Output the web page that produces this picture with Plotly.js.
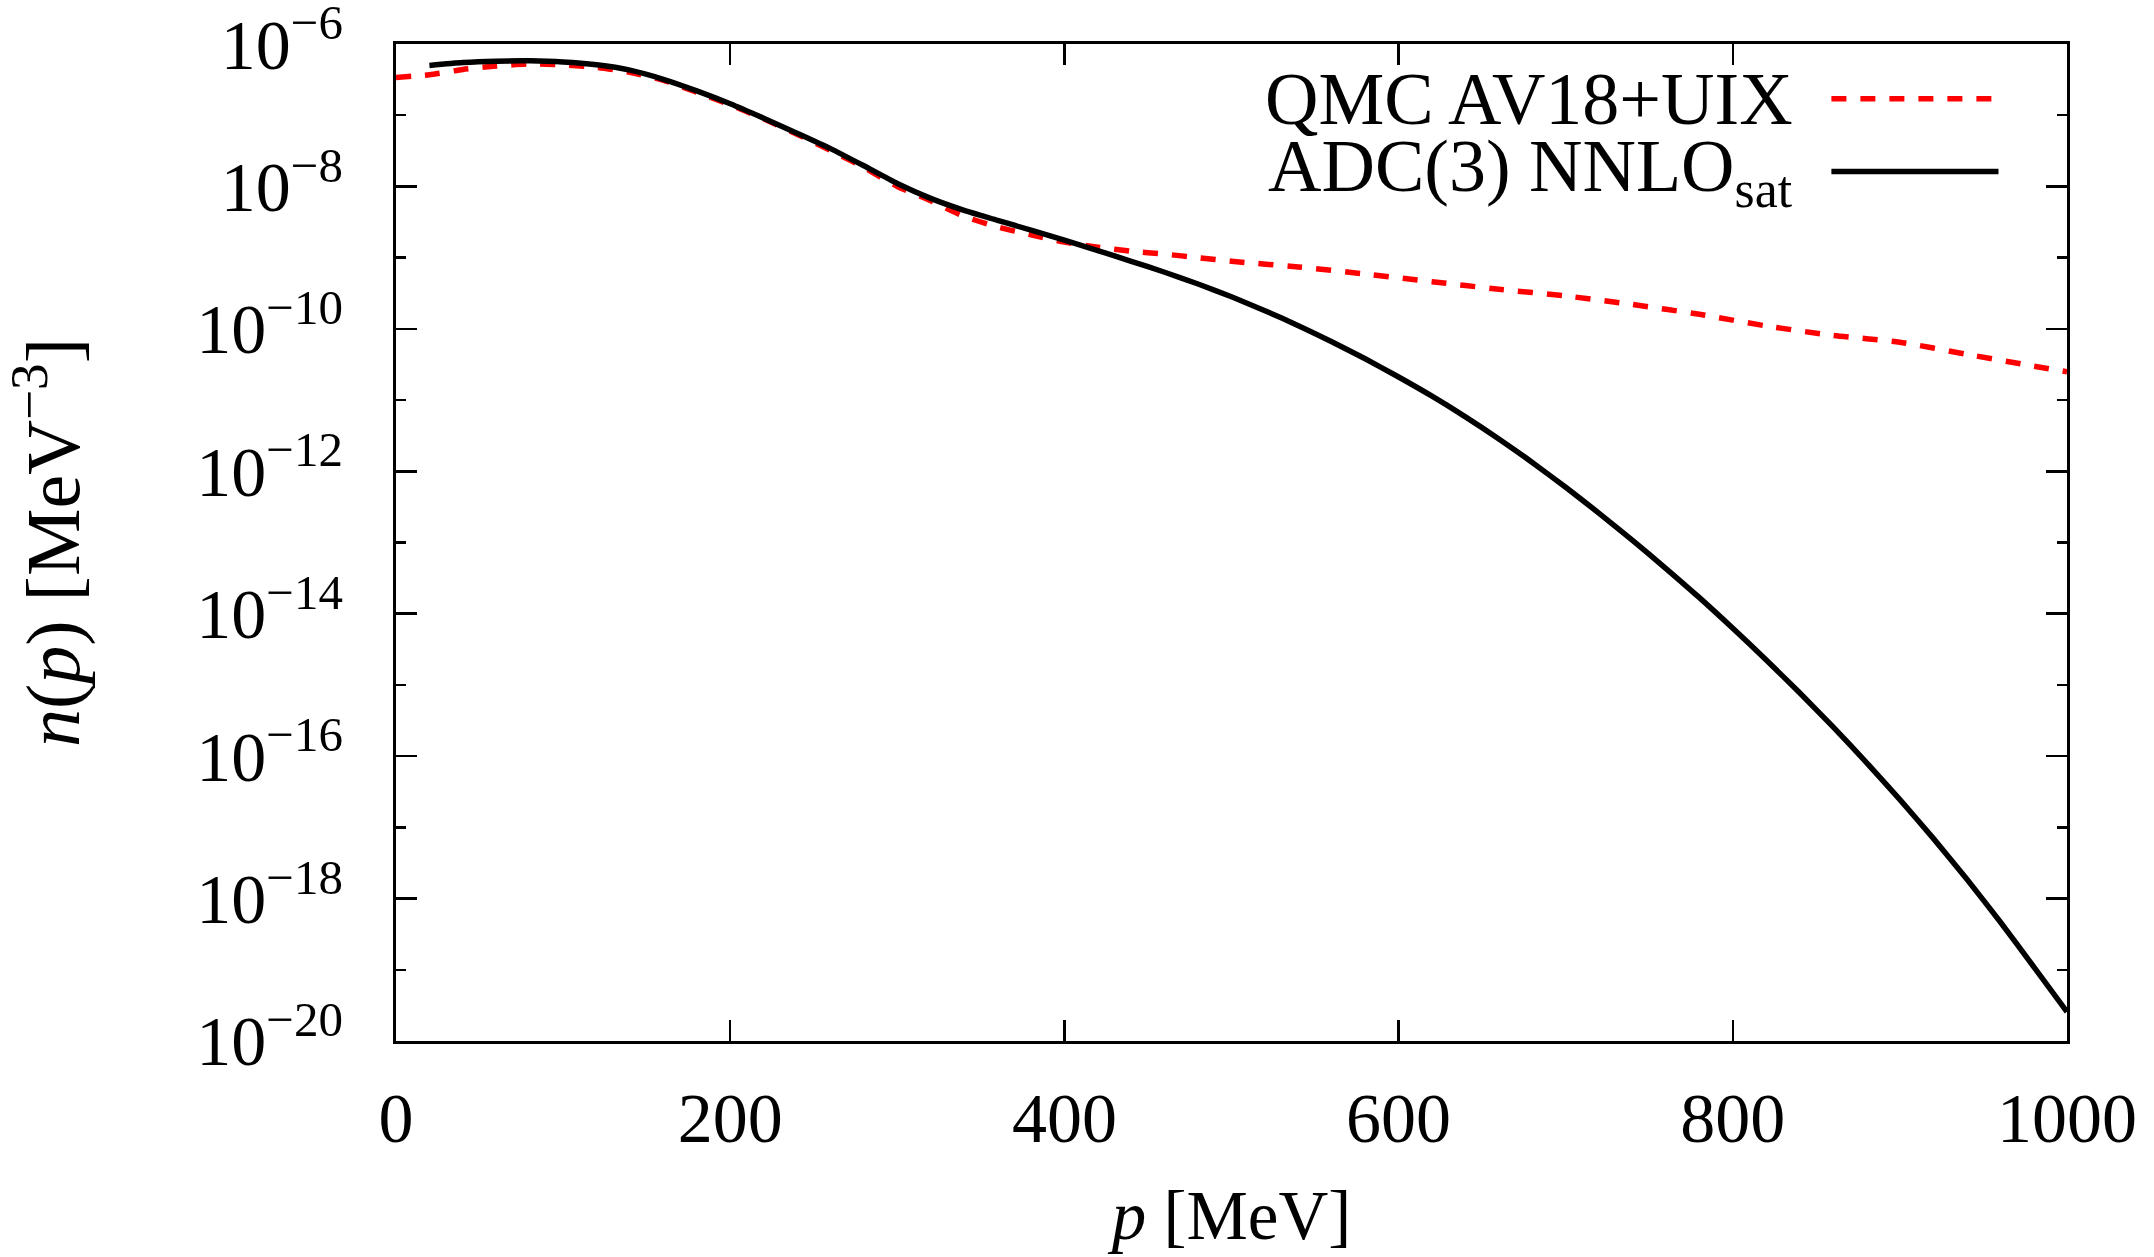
<!DOCTYPE html>
<html>
<head>
<meta charset="utf-8">
<script src="https://cdn.plot.ly/plotly-3.0.1.min.js"></script>
<style>
  html, body { margin: 0; padding: 0; background: #ffffff; }
  #chart { width: 2154px; height: 1257px; }
</style>
</head>
<body>
<div id="chart"></div>
<script>
// Momentum distribution n(p) of the nucleus, two calculations

// ADC(3) with NNLO_sat interaction
const pADC = [20, 40, 60, 80, 100, 120, 140, 160, 180, 200, 220, 240, 260, 280, 300,
  320, 340, 360, 380, 400, 420, 440, 460, 480, 500, 520, 540, 560, 580, 600,
  620, 640, 660, 680, 700, 720, 740, 760, 780, 800, 820, 840, 860, 880, 900,
  920, 940, 960, 980, 1000];
const nADC = [5.0e-7, 5.5e-7, 5.75e-7, 5.8e-7, 5.6e-7, 5.1e-7, 4.3e-7, 3.2e-7, 2.2e-7, 1.45e-7,
  9.1e-8, 5.6e-8, 3.4e-8, 1.95e-8, 1.1e-8, 6.8e-9, 4.62e-9, 3.35e-9, 2.43e-9, 1.76e-9,
  1.26e-9, 8.9e-10, 6.24e-10, 4.27e-10, 2.82e-10, 1.8e-10, 1.11e-10, 6.6e-11, 3.8e-11, 2.11e-11,
  1.135e-11, 5.82e-12, 2.85e-12, 1.33e-12, 5.96e-13, 2.57e-13, 1.07e-13, 4.31e-14, 1.68e-14, 6.24e-15,
  2.24e-15, 7.76e-16, 2.57e-16, 8.13e-17, 2.45e-17, 7.0e-18, 1.88e-18, 4.73e-19, 1.11e-19, 2.57e-20];

// QMC with AV18+UIX interaction
const pQMC = [0, 20, 40, 60, 80, 100, 120, 140, 160, 180, 200, 220, 240, 260, 280, 300,
  320, 340, 360, 380, 400, 420, 440, 460, 480, 500, 540, 580, 620, 660, 700,
  740, 780, 820, 860, 900, 940, 980, 1000];
const nQMC = [3.4e-7, 3.7e-7, 4.4e-7, 4.9e-7, 5.25e-7, 5.1e-7, 4.7e-7, 4.0e-7, 3.1e-7, 2.1e-7,
  1.4e-7, 8.9e-8, 5.4e-8, 3.2e-8, 1.85e-8, 1.0e-8, 6.3e-9, 3.8e-9, 2.7e-9, 2.1e-9,
  1.65e-9, 1.4e-9, 1.23e-9, 1.12e-9, 1.0e-9, 8.9e-10, 7.4e-10, 5.9e-10, 4.6e-10, 3.6e-10,
  2.9e-10, 2.2e-10, 1.6e-10, 1.1e-10, 8.1e-11, 6.5e-11, 4.4e-11, 3.0e-11, 2.5e-11];

// Axis ticks
const xTicks = [0, 200, 400, 600, 800, 1000];
const yMajorTicks = [1e-6, 1e-8, 1e-10, 1e-12, 1e-14, 1e-16, 1e-18, 1e-20];
const yMajorText = ['10<sup>−6</sup>', '10<sup>−8</sup>', '10<sup>−10</sup>', '10<sup>−12</sup>',
  '10<sup>−14</sup>', '10<sup>−16</sup>', '10<sup>−18</sup>', '10<sup>−20</sup>'];
const yMinorTicks = [1e-7, 1e-9, 1e-11, 1e-13, 1e-15, 1e-17, 1e-19];

// Legend entries
const seriesNames = ['QMC AV18+UIX', 'ADC(3) NNLO<sub>sat</sub>'];
const seriesColors = ['#ff0000', '#000000'];

const FONT = 'Liberation Serif, DejaVu Serif, serif';
const DASH = '15px,14px';

const traces = [
  {
    x: pQMC, y: nQMC, type: 'scatter', mode: 'lines', name: seriesNames[0],
    line: { color: seriesColors[0], width: 5.5, dash: DASH, shape: 'spline', smoothing: 0.6 },
    showlegend: false, hoverinfo: 'skip'
  },
  {
    x: pADC, y: nADC, type: 'scatter', mode: 'lines', name: seriesNames[1],
    line: { color: seriesColors[1], width: 5.5, shape: 'spline', smoothing: 0.6 },
    showlegend: false, hoverinfo: 'skip'
  }
];

// Legend drawn as text with a line sample to its right
const legendRows = [0.945, 0.872];
const legendTextX = 0.837;
const legendLine = [0.859, 0.959];

const annotations = seriesNames.map((name, i) => ({
  xref: 'paper', yref: 'paper', x: legendTextX, y: legendRows[i],
  xanchor: 'right', yanchor: 'middle', text: name, showarrow: false,
  font: { family: FONT, size: 74, color: '#000' }
}));

const shapes = seriesNames.map((name, i) => ({
  type: 'line', xref: 'paper', yref: 'paper',
  x0: legendLine[0], x1: legendLine[1], y0: legendRows[i], y1: legendRows[i],
  line: { color: seriesColors[i], width: 5.5, dash: i === 0 ? DASH : 'solid' }
}));

const layout = {
  width: 2154, height: 1257,
  margin: { l: 396, r: 87, t: 44, b: 216 },
  paper_bgcolor: '#ffffff', plot_bgcolor: '#ffffff',
  font: { family: FONT, size: 70, color: '#000' },
  showlegend: false,
  xaxis: {
    range: [0, 1000], tickmode: 'array', tickvals: xTicks,
    ticks: 'inside', ticklen: 21, tickwidth: 2.5, tickcolor: '#000',
    showline: true, linewidth: 3, linecolor: '#000', mirror: 'ticks',
    showgrid: false, zeroline: false,
    tickfont: { family: FONT, size: 70 },
    ticklabelstandoff: 14,
    ticklabeloverflow: 'allow',
    title: { text: '<i>p</i> [MeV]', font: { family: FONT, size: 69 }, standoff: 35 }
  },
  yaxis: {
    type: 'log', range: [-20.0004, -5.9996], tickmode: 'array', tickvals: yMajorTicks, ticktext: yMajorText,
    ticks: 'inside', ticklen: 21, tickwidth: 2.5, tickcolor: '#000',
    showline: true, linewidth: 3, linecolor: '#000', mirror: 'ticks',
    showgrid: false, zeroline: false,
    tickfont: { family: FONT, size: 70 },
    ticklabelstandoff: 36,
    ticklabeloverflow: 'allow',
    minor: { tickmode: 'array', tickvals: yMinorTicks, ticks: 'inside', ticklen: 10, tickwidth: 2.5, tickcolor: '#000', showgrid: false },
    title: { text: '<i>n</i>(<i>p</i>) [MeV<sup>−3</sup>]', font: { family: FONT, size: 76 }, standoff: 99 }
  },
  annotations: annotations,
  shapes: shapes
};

Plotly.newPlot('chart', traces, layout, { staticPlot: true });
</script>
</body>
</html>
